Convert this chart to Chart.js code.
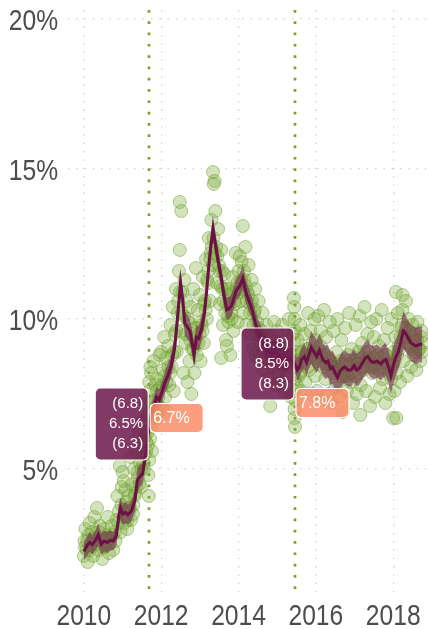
<!DOCTYPE html>
<html>
<head>
<meta charset="utf-8">
<script src="https://cdn.jsdelivr.net/npm/chart.js@4.4.1/dist/chart.umd.min.js"></script>
<style>
  html, body { margin: 0; padding: 0; background: #fff; }
  canvas { display: block; }
</style>
</head>
<body>
<canvas id="mychart" width="428" height="629"></canvas>
<script>
/* [ Data ] */
const tickYears = [2010, 2012, 2014, 2016, 2018];
const tickRates = [5, 10, 15, 20];

// smoothed estimate with its interval
const lineYears = [2010.00,2010.08,2010.15,2010.22,2010.30,2010.37,2010.45,2010.52,2010.60,2010.68,2010.76,2010.84,2010.90,2010.95,
  2011.01,2011.08,2011.14,2011.23,2011.32,2011.38,2011.45,2011.52,2011.58,2011.63,2011.69,2011.76,2011.82,2011.88,2011.95,
  2012.03,2012.10,2012.17,2012.25,2012.35,2012.42,2012.50,2012.56,2012.61,2012.67,2012.74,2012.80,2012.85,2012.91,2012.97,
  2013.04,2013.12,2013.18,2013.24,2013.30,2013.34,2013.40,2013.47,2013.55,2013.62,2013.70,2013.76,2013.82,2013.88,2013.94,
  2014.03,2014.11,2014.20,2014.27,2014.33,2014.40,2014.46,2014.55,2014.65,2014.75,2014.85,2014.95,
  2015.05,2015.15,2015.25,2015.35,2015.46,2015.52,2015.57,2015.63,2015.70,2015.76,2015.82,2015.88,2015.95,
  2016.02,2016.09,2016.18,2016.25,2016.31,2016.38,2016.43,2016.50,2016.56,2016.62,2016.69,2016.75,2016.83,2016.91,2016.99,
  2017.05,2017.12,2017.21,2017.28,2017.34,2017.42,2017.50,2017.58,2017.68,2017.75,2017.81,2017.88,2017.94,
  2018.00,2018.06,2018.13,2018.20,2018.26,2018.31,2018.37,2018.46,2018.52,2018.59,2018.67,2018.75];
const lineRates = [2.25,2.45,2.55,2.48,2.62,2.80,2.50,2.60,2.55,2.62,2.60,2.78,3.40,3.70,
  3.50,3.55,3.48,3.60,3.95,4.60,4.75,4.85,5.35,5.75,6.50,6.90,7.10,7.40,7.30,
  7.60,7.90,8.10,8.40,9.05,10.00,11.20,10.60,9.85,9.75,9.60,9.20,8.80,9.40,9.35,
  9.65,10.20,11.00,11.90,12.60,13.00,12.50,11.95,11.40,10.80,10.30,10.35,10.45,10.70,10.95,
  11.10,11.35,10.85,10.60,10.40,10.05,9.75,9.45,9.15,8.95,8.85,8.90,
  8.75,8.65,8.55,8.70,8.50,8.30,8.40,8.65,8.75,8.55,8.80,9.05,8.90,
  8.75,8.95,8.65,8.55,8.60,8.35,8.40,8.20,8.05,8.25,8.35,8.40,8.30,8.30,8.45,
  8.30,8.35,8.55,8.70,8.75,8.60,8.55,8.60,8.50,8.60,8.65,8.40,8.10,
  8.45,8.70,8.90,9.25,9.60,9.55,9.40,9.20,9.15,9.10,9.15,9.15];
const bandLow = [1.95,2.10,2.25,2.15,2.30,2.45,2.15,2.25,2.20,2.30,2.30,2.45,3.05,3.30,
  3.15,3.20,3.15,3.25,3.60,4.20,4.40,4.50,5.00,5.40,6.30,6.60,6.80,7.05,6.95,
  7.25,7.55,7.75,8.05,8.65,9.60,10.80,10.20,9.45,9.35,9.20,8.80,8.40,9.00,8.95,
  9.25,9.80,10.65,11.55,12.25,12.65,12.15,11.60,11.05,10.45,9.95,10.00,10.10,10.35,10.60,
  10.75,11.00,10.50,10.25,10.05,9.70,9.40,9.10,8.80,8.60,8.50,8.55,
  8.40,8.30,8.25,8.40,8.30,7.95,8.00,8.25,8.35,8.10,8.35,8.50,8.35,
  8.20,8.40,8.10,8.00,8.05,7.80,7.85,7.65,7.50,7.70,7.80,7.85,7.75,7.75,7.90,
  7.75,7.80,8.00,8.15,8.20,8.05,8.00,8.05,7.95,8.05,8.10,7.85,7.50,
  7.85,8.10,8.30,8.65,9.00,8.95,8.80,8.60,8.55,8.50,8.55,8.55];
const bandHigh = [2.55,2.75,2.90,2.80,2.95,3.20,2.85,2.95,2.90,2.95,2.90,3.10,3.80,4.05,
  3.85,3.90,3.80,3.95,4.30,5.00,5.15,5.20,5.70,6.10,6.80,7.25,7.45,7.75,7.65,
  7.95,8.25,8.50,8.80,9.45,10.45,11.65,11.00,10.25,10.15,10.00,9.60,9.25,9.80,9.75,
  10.05,10.60,11.40,12.30,13.00,13.45,12.90,12.35,11.80,11.20,10.70,10.75,10.85,11.10,11.35,
  11.50,11.80,11.25,11.00,10.80,10.45,10.15,9.85,9.55,9.35,9.25,9.30,
  9.15,9.05,8.95,9.05,8.80,8.70,8.80,9.05,9.20,9.00,9.25,9.60,9.45,
  9.30,9.50,9.20,9.10,9.15,8.90,8.95,8.75,8.60,8.80,8.90,8.95,8.85,8.85,9.00,
  8.85,8.90,9.10,9.25,9.30,9.15,9.10,9.15,9.05,9.15,9.20,8.95,8.65,
  9.05,9.30,9.50,9.85,10.25,10.15,10.00,9.80,9.75,9.70,9.75,9.75];

// individual observations [year, rate]
const observations = [
  [2010.00,2.1],[2010.02,2.6],[2010.04,3.0],[2010.07,2.3],[2010.10,1.9],[2010.12,2.8],[2010.15,3.2],[2010.18,2.4],
  [2010.21,2.9],[2010.24,2.1],[2010.27,3.4],[2010.30,2.7],[2010.34,3.7],[2010.38,2.3],[2010.41,3.1],[2010.45,2.6],
  [2010.48,2.0],[2010.52,3.0],[2010.55,2.4],[2010.58,2.8],[2010.62,3.4],[2010.65,2.2],[2010.69,2.7],[2010.72,3.1],
  [2010.76,2.3],[2010.80,2.9],[2010.84,3.3],[2010.87,4.1],[2010.91,3.6],[2010.93,5.1],[2010.95,2.9],[2010.98,4.4],
  [2011.00,4.9],[2011.03,4.6],[2011.05,3.2],[2011.08,4.3],[2011.10,3.9],[2011.12,3.0],[2011.15,4.1],[2011.18,3.6],
  [2011.20,5.4],[2011.22,3.3],[2011.25,4.5],[2011.28,3.8],[2011.30,5.0],[2011.33,4.2],[2011.36,5.6],[2011.40,4.7],
  [2011.42,6.2],[2011.45,5.2],[2011.48,4.4],[2011.50,5.8],[2011.53,6.6],[2011.55,5.0],[2011.58,6.1],[2011.60,7.2],
  [2011.62,5.6],[2011.65,6.8],[2011.67,4.8],[2011.68,4.1],[2011.69,5.3],[2011.69,7.9],[2011.70,7.6],[2011.71,6.0],
  [2011.72,8.4],[2011.73,6.4],[2011.74,8.2],[2011.76,5.6],[2011.78,7.0],[2011.80,8.6],[2011.83,6.6],[2011.85,7.8],
  [2011.88,8.0],[2011.90,6.9],[2011.93,7.4],[2011.96,8.8],
  [2012.00,8.9],[2012.03,7.0],[2012.05,8.3],[2012.08,9.4],[2012.10,7.4],[2012.13,8.7],[2012.16,6.9],[2012.18,9.1],
  [2012.21,7.8],[2012.24,9.8],[2012.27,8.4],[2012.30,10.4],[2012.32,7.6],[2012.35,9.5],[2012.38,11.0],[2012.40,8.9],
  [2012.43,10.2],[2012.46,11.6],[2012.48,12.3],[2012.48,13.9],[2012.52,13.6],[2012.50,9.6],[2012.55,10.9],[2012.58,8.2],
  [2012.60,11.3],[2012.63,9.2],[2012.66,10.6],[2012.68,7.9],[2012.70,9.9],[2012.73,8.6],[2012.76,10.4],[2012.78,7.5],
  [2012.80,9.0],[2012.83,11.0],[2012.86,8.2],[2012.88,9.7],[2012.90,11.7],[2012.92,8.8],[2012.95,10.3],[2012.97,9.2],
  [2013.00,10.8],[2013.02,8.6],[2013.05,9.8],[2013.08,11.4],[2013.10,9.2],[2013.13,10.6],[2013.16,12.0],[2013.18,10.0],
  [2013.21,11.2],[2013.23,12.7],[2013.26,10.6],[2013.28,12.2],[2013.30,13.3],[2013.33,11.8],[2013.34,14.9],[2013.38,14.6],
  [2013.36,14.5],[2013.40,13.6],[2013.42,12.4],[2013.44,11.2],[2013.47,13.0],[2013.50,11.6],[2013.52,10.5],[2013.55,12.3],
  [2013.55,8.7],[2013.58,11.0],[2013.60,9.8],[2013.63,11.5],[2013.66,10.2],[2013.68,9.3],[2013.70,9.1],[2013.71,11.0],
  [2013.74,9.9],[2013.76,10.8],[2013.79,8.8],[2013.82,10.0],[2013.85,11.4],[2013.87,9.6],[2013.90,10.6],[2013.93,12.2],
  [2013.95,11.0],[2013.98,9.9],
  [2014.00,11.6],[2014.03,12.1],[2014.05,10.6],[2014.08,11.9],[2014.11,13.1],[2014.12,10.2],[2014.15,11.3],[2014.18,12.4],
  [2014.20,9.8],[2014.23,10.9],[2014.26,11.8],[2014.28,9.5],[2014.31,10.5],[2014.34,11.3],[2014.37,9.0],[2014.40,10.2],
  [2014.43,11.0],[2014.45,8.8],[2014.48,9.9],[2014.52,10.6],[2014.55,8.6],[2014.58,9.5],[2014.62,10.2],[2014.65,8.3],
  [2014.68,9.2],[2014.72,9.8],[2014.75,8.0],[2014.78,9.0],[2014.82,7.1],[2014.85,9.4],[2014.88,8.4],[2014.92,9.9],
  [2014.95,8.7],[2014.98,7.8],
  [2015.00,9.6],[2015.03,8.2],[2015.06,9.1],[2015.10,7.9],[2015.13,9.8],[2015.16,8.6],[2015.20,7.6],[2015.23,9.3],
  [2015.26,8.1],[2015.30,10.0],[2015.33,8.8],[2015.36,7.4],[2015.40,9.5],[2015.43,10.7],[2015.44,10.4],[2015.45,10.0],
  [2015.46,9.6],[2015.45,9.2],[2015.46,8.8],[2015.47,8.0],[2015.46,7.6],[2015.47,7.3],[2015.45,7.0],[2015.45,6.7],
  [2015.46,6.4],[2015.48,8.9],[2015.50,7.8],[2015.53,9.3],[2015.56,8.1],[2015.60,9.8],[2015.63,7.6],[2015.66,8.7],
  [2015.70,9.5],[2015.73,7.9],[2015.76,9.0],[2015.80,10.2],[2015.83,8.3],[2015.86,9.6],[2015.90,7.5],[2015.93,8.8],
  [2015.96,10.0],[2015.98,8.1],
  [2016.00,9.3],[2016.03,7.6],[2016.06,10.1],[2016.09,8.5],[2016.12,9.6],[2016.15,7.3],[2016.18,8.9],[2016.21,10.3],
  [2016.24,8.0],[2016.27,9.4],[2016.30,7.5],[2016.33,8.7],[2016.36,9.9],[2016.40,7.2],[2016.43,8.4],[2016.46,9.6],
  [2016.50,7.7],[2016.53,8.9],[2016.56,10.0],[2016.60,7.4],[2016.63,8.6],[2016.66,9.3],[2016.70,6.9],[2016.73,8.1],
  [2016.76,9.7],[2016.80,7.6],[2016.83,8.8],[2016.86,10.2],[2016.90,7.9],[2016.93,9.0],[2016.96,7.2],
  [2017.00,8.6],[2017.03,9.8],[2017.06,7.5],[2017.10,8.9],[2017.13,10.1],[2017.15,6.8],[2017.16,7.8],[2017.20,9.2],
  [2017.23,8.3],[2017.26,10.4],[2017.30,7.6],[2017.33,9.5],[2017.36,8.7],[2017.40,7.1],[2017.43,9.9],[2017.46,8.2],
  [2017.50,9.4],[2017.53,7.4],[2017.56,10.0],[2017.60,8.5],[2017.63,9.1],[2017.66,7.7],[2017.70,10.3],[2017.73,8.0],
  [2017.76,9.3],[2017.80,7.2],[2017.83,8.8],[2017.86,9.7],[2017.90,7.5],[2017.93,8.4],[2017.96,10.0],
  [2018.00,8.9],[2018.00,6.7],[2018.03,7.6],[2018.06,9.4],[2018.07,10.9],[2018.08,6.7],[2018.09,8.2],[2018.12,10.2],
  [2018.15,9.0],[2018.18,7.9],[2018.22,9.7],[2018.24,10.8],[2018.24,10.3],[2018.26,8.6],[2018.30,9.4],[2018.33,10.6],
  [2018.36,8.1],[2018.40,10.0],[2018.43,9.1],[2018.46,8.4],[2018.50,9.8],[2018.53,8.8],[2018.56,9.5],[2018.60,8.3],
  [2018.63,9.9],[2018.66,9.0],[2018.70,8.6],[2018.73,9.6],[2018.76,9.2],
  // observations close to the trend
  [2010.03,2.4],[2010.09,2.6],[2010.16,2.3],[2010.26,2.7],[2010.33,2.5],[2010.40,2.9],[2010.50,2.4],[2010.57,2.7],
  [2010.67,2.5],[2010.74,2.8],[2010.82,2.6],[2010.89,3.2],[2010.97,3.8],
  [2011.02,3.4],[2011.07,3.7],[2011.13,3.3],[2011.19,3.7],[2011.27,3.5],[2011.31,4.1],[2011.35,4.4],[2011.39,4.9],
  [2011.44,4.5],[2011.49,5.0],[2011.54,5.2],[2011.57,5.5],[2011.61,5.9],[2011.64,6.2],[2011.66,5.8],[2011.70,6.8],
  [2011.75,7.2],[2011.79,6.8],[2011.84,7.3],[2011.89,7.6],[2011.94,7.1],[2011.98,7.7],
  [2012.04,7.8],[2012.09,8.1],[2012.14,7.9],[2012.19,8.4],[2012.23,8.2],[2012.29,8.8],[2012.34,8.9],[2012.39,9.6],
  [2012.44,10.6],[2012.49,10.9],[2012.53,10.2],[2012.59,10.1],[2012.64,9.5],[2012.69,10.0],[2012.75,9.3],[2012.79,9.5],
  [2012.84,9.0],[2012.89,9.2],[2012.94,9.7],[2012.99,9.5],
  [2013.03,9.9],[2013.07,9.6],[2013.11,10.5],[2013.15,10.3],[2013.19,11.3],[2013.22,11.6],[2013.27,12.0],[2013.31,12.4],
  [2013.35,12.7],[2013.39,12.2],[2013.45,12.1],[2013.49,11.8],[2013.54,11.1],[2013.57,11.6],[2013.61,10.6],[2013.65,11.0],
  [2013.69,10.5],[2013.73,10.1],[2013.78,10.5],[2013.81,10.2],[2013.86,10.9],[2013.91,10.5],[2013.97,11.2],
  [2014.02,10.9],[2014.07,11.3],[2014.10,11.0],[2014.14,11.6],[2014.19,11.1],[2014.22,10.6],[2014.25,10.8],[2014.30,10.2],
  [2014.35,10.6],[2014.39,9.8],[2014.42,10.3],[2014.47,9.5],[2014.51,9.7],[2014.57,9.2],[2014.61,9.6],[2014.66,8.9],
  [2014.71,9.3],[2014.77,8.7],[2014.81,9.1],[2014.87,8.6],[2014.91,9.1],[2014.97,8.8],
  [2015.02,8.9],[2015.08,8.5],[2015.12,8.9],[2015.18,8.4],[2015.22,8.8],[2015.28,8.5],[2015.32,8.9],[2015.38,8.4],
  [2015.42,8.6],[2015.51,8.4],[2015.55,8.6],[2015.59,8.2],[2015.65,8.9],[2015.68,8.5],[2015.74,8.8],[2015.78,8.4],
  [2015.81,9.0],[2015.87,8.8],[2015.92,9.2],[2015.97,8.7],
  [2016.01,8.9],[2016.05,8.6],[2016.11,9.1],[2016.14,8.8],[2016.20,8.4],[2016.23,8.8],[2016.28,8.5],[2016.34,8.3],
  [2016.39,8.6],[2016.45,8.2],[2016.49,8.5],[2016.54,7.9],[2016.58,8.3],[2016.64,8.1],[2016.68,8.5],[2016.72,8.2],
  [2016.78,8.6],[2016.82,8.1],[2016.88,8.5],[2016.94,8.2],[2016.98,8.6],
  [2017.02,8.1],[2017.08,8.5],[2017.11,8.2],[2017.18,8.7],[2017.22,8.4],[2017.27,8.9],[2017.32,8.6],[2017.38,8.9],
  [2017.44,8.4],[2017.48,8.7],[2017.54,8.4],[2017.59,8.8],[2017.64,8.3],[2017.69,8.7],[2017.74,8.4],[2017.79,8.8],
  [2017.84,8.5],[2017.89,8.2],[2017.95,8.0],[2017.98,8.5],
  [2018.04,8.6],[2018.10,8.8],[2018.14,9.1],[2018.19,9.4],[2018.23,9.8],[2018.27,9.4],[2018.32,9.7],[2018.38,9.2],
  [2018.42,9.6],[2018.48,9.0],[2018.54,9.3],[2018.58,8.9],[2018.62,9.3],[2018.68,9.0],[2018.72,9.4],[2018.75,8.9]
];

// annotated dates with estimate (low, mid, high) and the comparison value
const markerYears = [2011.69, 2015.46];
const estLow = [6.3, 8.3];
const estMid = [6.5, 8.5];
const estHigh = [6.8, 8.8];
const compareRates = [6.7, 7.8];

/* [ Plugins ] */
const markerLines = {
  id: 'markerLines',
  beforeDatasetsDraw(chart) {
    const { ctx, chartArea, scales: { x } } = chart;
    ctx.save();
    ctx.strokeStyle = '#7ba22c';
    ctx.lineWidth = 2.7;
    ctx.setLineDash([2.7, 8.6]);
    markerYears.forEach(yr => {
      const px = Math.round(x.getPixelForValue(yr));
      ctx.beginPath();
      ctx.moveTo(px, chartArea.top);
      ctx.lineTo(px, chartArea.bottom);
      ctx.stroke();
    });
    ctx.restore();
  }
};

const compareAt = [6.7, 7.2]; // vertical placement of the salmon labels

const markerBoxes = {
  id: 'markerBoxes',
  afterDatasetsDraw(chart) {
    const { ctx, scales: { x, y } } = chart;
    ctx.save();
    for (let i = 0; i < markerYears.length; i++) {
      const px = x.getPixelForValue(markerYears[i]);
      const py = y.getPixelForValue(estMid[i]);

      ctx.beginPath();
      ctx.roundRect(px - 54, py - 36, 53, 72, 5);
      ctx.fillStyle = 'rgba(112,30,80,0.88)';
      ctx.fill();
      ctx.strokeStyle = '#ffffff';
      ctx.lineWidth = 1.2;
      ctx.stroke();

      ctx.fillStyle = '#ffffff';
      ctx.font = '15px "Liberation Sans", Arial, sans-serif';
      ctx.textAlign = 'right';
      ctx.textBaseline = 'middle';
      ctx.fillText('(' + estHigh[i].toFixed(1) + ')', px - 6, py - 20);
      ctx.fillText(estMid[i].toFixed(1) + '%', px - 6, py);
      ctx.fillText('(' + estLow[i].toFixed(1) + ')', px - 6, py + 20);

      const qy = y.getPixelForValue(compareAt[i]);
      ctx.beginPath();
      ctx.roundRect(px + 1, qy - 14.5, 53, 29, 5);
      ctx.fillStyle = 'rgba(250,140,105,0.85)';
      ctx.fill();
      ctx.strokeStyle = '#ffffff';
      ctx.stroke();
      ctx.fillStyle = '#ffffff';
      ctx.font = '16px "Liberation Sans", Arial, sans-serif';
      ctx.textAlign = 'left';
      ctx.fillText(compareRates[i].toFixed(1) + '%', px + 4, qy + 0.5);
    }
    ctx.restore();
  }
};

// condensed tick labels (no narrow font installed, so squeeze Liberation Sans)
const axisLabels = {
  id: 'axisLabels',
  afterDraw(chart) {
    const { ctx, chartArea, scales: { x, y } } = chart;
    ctx.save();
    ctx.fillStyle = '#4d4d4d';
    ctx.font = '30px "Liberation Sans", Arial, sans-serif';
    ctx.textBaseline = 'alphabetic';
    const squeeze = 0.82;
    tickYears.forEach(v => {
      const px = x.getPixelForValue(v);
      ctx.save();
      ctx.translate(px, chartArea.bottom + 30);
      ctx.scale(squeeze, 1);
      ctx.textAlign = 'center';
      ctx.fillText(String(v), 0, 0);
      ctx.restore();
    });
    tickRates.forEach(v => {
      const py = y.getPixelForValue(v);
      ctx.save();
      ctx.translate(chartArea.left - 10, py + 11);
      ctx.scale(squeeze, 1);
      ctx.textAlign = 'right';
      ctx.fillText(v + '%', 0, 0);
      ctx.restore();
    });
    ctx.restore();
  }
};

function noPad(scale) {
  scale.paddingTop = 0;
  scale.paddingBottom = 0;
  scale.paddingLeft = 0;
  scale.paddingRight = 0;
}

/* [ Chart ] */
const ctx1 = document.getElementById('mychart').getContext('2d');
let mychart = new Chart(ctx1, {
  type: 'line',
  data: {
    datasets: [
      {
        label: 'estimate',
        data: lineYears.map((yr, i) => ({ x: yr, y: lineRates[i] })),
        borderColor: '#6b1146',
        borderWidth: 3,
        pointRadius: 0,
        fill: false,
        order: 0
      },
      {
        label: 'upper',
        data: lineYears.map((yr, i) => ({ x: yr, y: bandHigh[i] })),
        borderWidth: 0,
        pointRadius: 0,
        backgroundColor: 'rgba(115,40,80,0.6)',
        fill: '+1',
        order: 1
      },
      {
        label: 'lower',
        data: lineYears.map((yr, i) => ({ x: yr, y: bandLow[i] })),
        borderWidth: 0,
        pointRadius: 0,
        fill: false,
        order: 1
      },
      {
        type: 'scatter',
        label: 'observed',
        data: observations.map(p => ({ x: p[0], y: p[1] })),
        pointRadius: 6.5,
        backgroundColor: 'rgba(122,170,56,0.33)',
        borderColor: 'rgba(108,158,42,0.5)',
        borderWidth: 1,
        order: 2
      }
    ]
  },
  options: {
    responsive: false,
    animation: false,
    events: [],
    layout: { autoPadding: false, padding: { top: 10, right: 0, left: 0, bottom: 0 } },
    plugins: {
      legend: { display: false },
      tooltip: { enabled: false }
    },
    scales: {
      x: {
        type: 'linear',
        min: 2009.59,
        max: 2018.9,
        afterBuildTicks: s => { s.ticks = tickYears.map(v => ({ value: v })); },
        afterFit: s => { s.height = 34; noPad(s); },
        ticks: { display: false },
        grid: { color: '#cccccc', lineWidth: 1.3, drawTicks: false },
        border: { display: false, dash: [1.3, 7] }
      },
      y: {
        min: 0.8,
        max: 20.3,
        afterBuildTicks: s => { s.ticks = tickRates.map(v => ({ value: v })); },
        afterFit: s => { s.width = 68; noPad(s); },
        ticks: { display: false },
        grid: { color: '#cccccc', lineWidth: 1.3, drawTicks: false },
        border: { display: false, dash: [1.3, 7] }
      }
    }
  },
  plugins: [markerLines, markerBoxes, axisLabels]
});
</script>
</body>
</html>
